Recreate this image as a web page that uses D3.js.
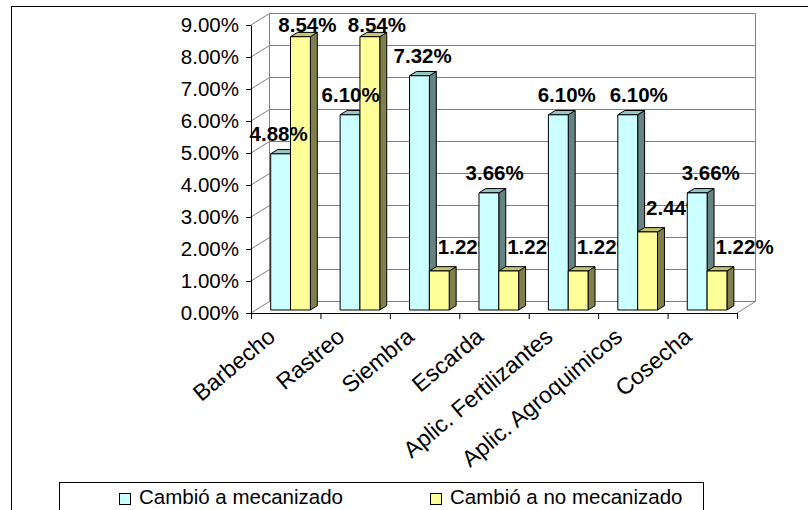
<!DOCTYPE html>
<html>
<head>
<meta charset="utf-8">
<script src="https://cdn.jsdelivr.net/npm/d3@7"></script>
<style>
  html, body { margin: 0; padding: 0; background: #fff; }
  svg { display: block; }
  text { font-family: "Liberation Sans", Arial, sans-serif; }
</style>
</head>
<body>
<svg id="chart" width="808" height="510"></svg>
<script>
// Share of producers that changed how each task is done
const categories = ["Barbecho", "Rastreo", "Siembra", "Escarda",
  "Aplic. Fertilizantes", "Aplic. Agroquimicos", "Cosecha"];
const seriesNames = ["Cambió a mecanizado", "Cambió a no mecanizado"];
const mecanizado   = [4.88, 6.10, 7.32, 3.66, 6.10, 6.10, 3.66];
const noMecanizado = [8.54, 8.54, 1.22, 1.22, 1.22, 2.44, 1.22];
const yTicks = [0, 1, 2, 3, 4, 5, 6, 7, 8, 9];

const seriesValues = [mecanizado, noMecanizado];
const palette = [
  { front: "#CCFFFF", top: "#99C4C4", side: "#668282" },
  { front: "#FFFF99", top: "#C4C470", side: "#80804D" }
];

const svg = d3.select("#chart");
const FONT = 20.5;
const CAT_FONT = 23;

// plot frame (front plane) and the 3-D depth offset of the walls
const plotLeft = 251, plotRight = 737, plotTop = 25, plotBottom = 313;
const DX = 18.5, DY = -11.5;
const barFront = 0.26, barBack = 0.635;   // bar depth as fractions of the wall depth

const x = d3.scaleBand().domain(categories).range([plotLeft, plotRight]).padding(0);
const xs = d3.scaleBand().domain(d3.range(seriesNames.length))
  .range([0, x.bandwidth()]).paddingInner(0).paddingOuter(0.75);
const y = d3.scaleLinear().domain([0, 9]).range([plotBottom, plotTop]);

const P = (px, v, f) => [px + f * DX, y(v) + f * DY];
const poly = pts => pts.map(p => p.join(",")).join(" ");

// chart area border
svg.append("rect").attr("x", 11.5).attr("y", 6.5).attr("width", 830).attr("height", 540)
  .attr("fill", "#fff").attr("stroke", "#000").attr("stroke-width", 1);

// walls: back gridlines, side-wall diagonals, wall edges
const wall = svg.append("g").attr("stroke", "#808080").attr("stroke-width", 1).attr("fill", "none");
yTicks.forEach(v => {
  wall.append("line").attr("x1", plotLeft + DX).attr("x2", plotRight + DX)
    .attr("y1", y(v) + DY).attr("y2", y(v) + DY);
  wall.append("line").attr("x1", plotLeft).attr("x2", plotLeft + DX)
    .attr("y1", y(v)).attr("y2", y(v) + DY);
});
wall.append("line").attr("x1", plotLeft + DX).attr("x2", plotLeft + DX)
  .attr("y1", y(9) + DY).attr("y2", y(0) + DY);
wall.append("line").attr("x1", plotRight + DX).attr("x2", plotRight + DX)
  .attr("y1", y(9) + DY).attr("y2", y(0) + DY);
wall.append("line").attr("x1", plotRight).attr("x2", plotRight + DX)
  .attr("y1", y(0)).attr("y2", y(0) + DY);

// axes
const yAxis = d3.axisLeft(y).tickValues(yTicks)
  .tickFormat(d => d.toFixed(2) + "%").tickSize(5).tickSizeOuter(0).tickPadding(7);
const gy = svg.append("g").attr("transform", `translate(${plotLeft},0)`).call(yAxis);
gy.selectAll("text").attr("font-size", FONT).attr("fill", "#000")
  .style("font-family", '"Liberation Sans", Arial, sans-serif');
gy.selectAll("line,path").attr("stroke", "#000");

const xb = d3.scaleLinear().domain([0, categories.length]).range([plotLeft, plotRight]);
const xAxis = d3.axisBottom(xb).tickValues(d3.range(categories.length + 1))
  .tickFormat("").tickSize(6).tickSizeOuter(0);
const gx = svg.append("g").attr("transform", `translate(0,${plotBottom})`).call(xAxis);
gx.selectAll("line,path").attr("stroke", "#000");

// category labels, rotated
svg.append("g").selectAll("text").data(categories).join("text")
  .attr("transform", d => `translate(${x(d) + x.bandwidth() / 2 - 9},339) rotate(-40)`)
  .attr("text-anchor", "end")
  .attr("font-size", CAT_FONT)
  .attr("fill", "#000")
  .text(d => d);

// bars, drawn category by category so later bars overlap earlier labels
const barsG = svg.append("g");
const fmt = v => v.toFixed(2) + "%";
const labelTop = y(9) + DY + 18;

categories.forEach((cat, i) => {
  const g = barsG.append("g");
  seriesValues.forEach((vals, s) => {
    const v = vals[i];
    const x0 = x(cat) + xs(s), x1 = x0 + xs.bandwidth();
    const c = palette[s];
    g.append("polygon").attr("points", poly([P(x1, v, barFront), P(x1, v, barBack), P(x1, 0, barBack), P(x1, 0, barFront)]))
      .attr("fill", c.side).attr("stroke", "#000").attr("stroke-width", 1).attr("stroke-linejoin", "round");
    g.append("polygon").attr("points", poly([P(x0, v, barFront), P(x1, v, barFront), P(x1, v, barBack), P(x0, v, barBack)]))
      .attr("fill", c.top).attr("stroke", "#000").attr("stroke-width", 1).attr("stroke-linejoin", "round");
    g.append("polygon").attr("points", poly([P(x0, v, barFront), P(x1, v, barFront), P(x1, 0, barFront), P(x0, 0, barFront)]))
      .attr("fill", c.front).attr("stroke", "#000").attr("stroke-width", 1).attr("stroke-linejoin", "round");
  });
  // value labels
  seriesValues.forEach((vals, s) => {
    const v = vals[i];
    const x0 = x(cat) + xs(s);
    const cx = x0 + xs.bandwidth() / 2 + barFront * DX;
    const ty = y(v) + barFront * DY;
    let base, lx, anchor;
    if (s === 0) {
      base = Math.max(ty - 13, labelTop);
      lx = cx - 2 + 2.6 * i;
      anchor = "middle";
    } else {
      base = ty - 16.5;
      if (base < labelTop) { base = labelTop; lx = cx + 7; anchor = "middle"; }
      else { lx = cx - 1.5; anchor = "start"; }
    }
    g.append("text").attr("x", lx).attr("y", base)
      .attr("text-anchor", anchor).attr("font-size", FONT).attr("font-weight", "bold")
      .attr("fill", "#000").text(fmt(v));
  });
});

// legend
const lg = svg.append("g");
lg.append("rect").attr("x", 59.5).attr("y", 482.5).attr("width", 644).attr("height", 60)
  .attr("fill", "#fff").attr("stroke", "#000").attr("stroke-width", 1);
const legendX = [119, 430];
seriesNames.forEach((name, s) => {
  lg.append("rect").attr("x", legendX[s] + 0.5).attr("y", 493.5).attr("width", 11).attr("height", 11)
    .attr("fill", palette[s].front).attr("stroke", "#000").attr("stroke-width", 1);
  lg.append("text").attr("x", legendX[s] + 20).attr("y", 504)
    .attr("font-size", FONT).attr("fill", "#000").text(name);
});
</script>
</body>
</html>
